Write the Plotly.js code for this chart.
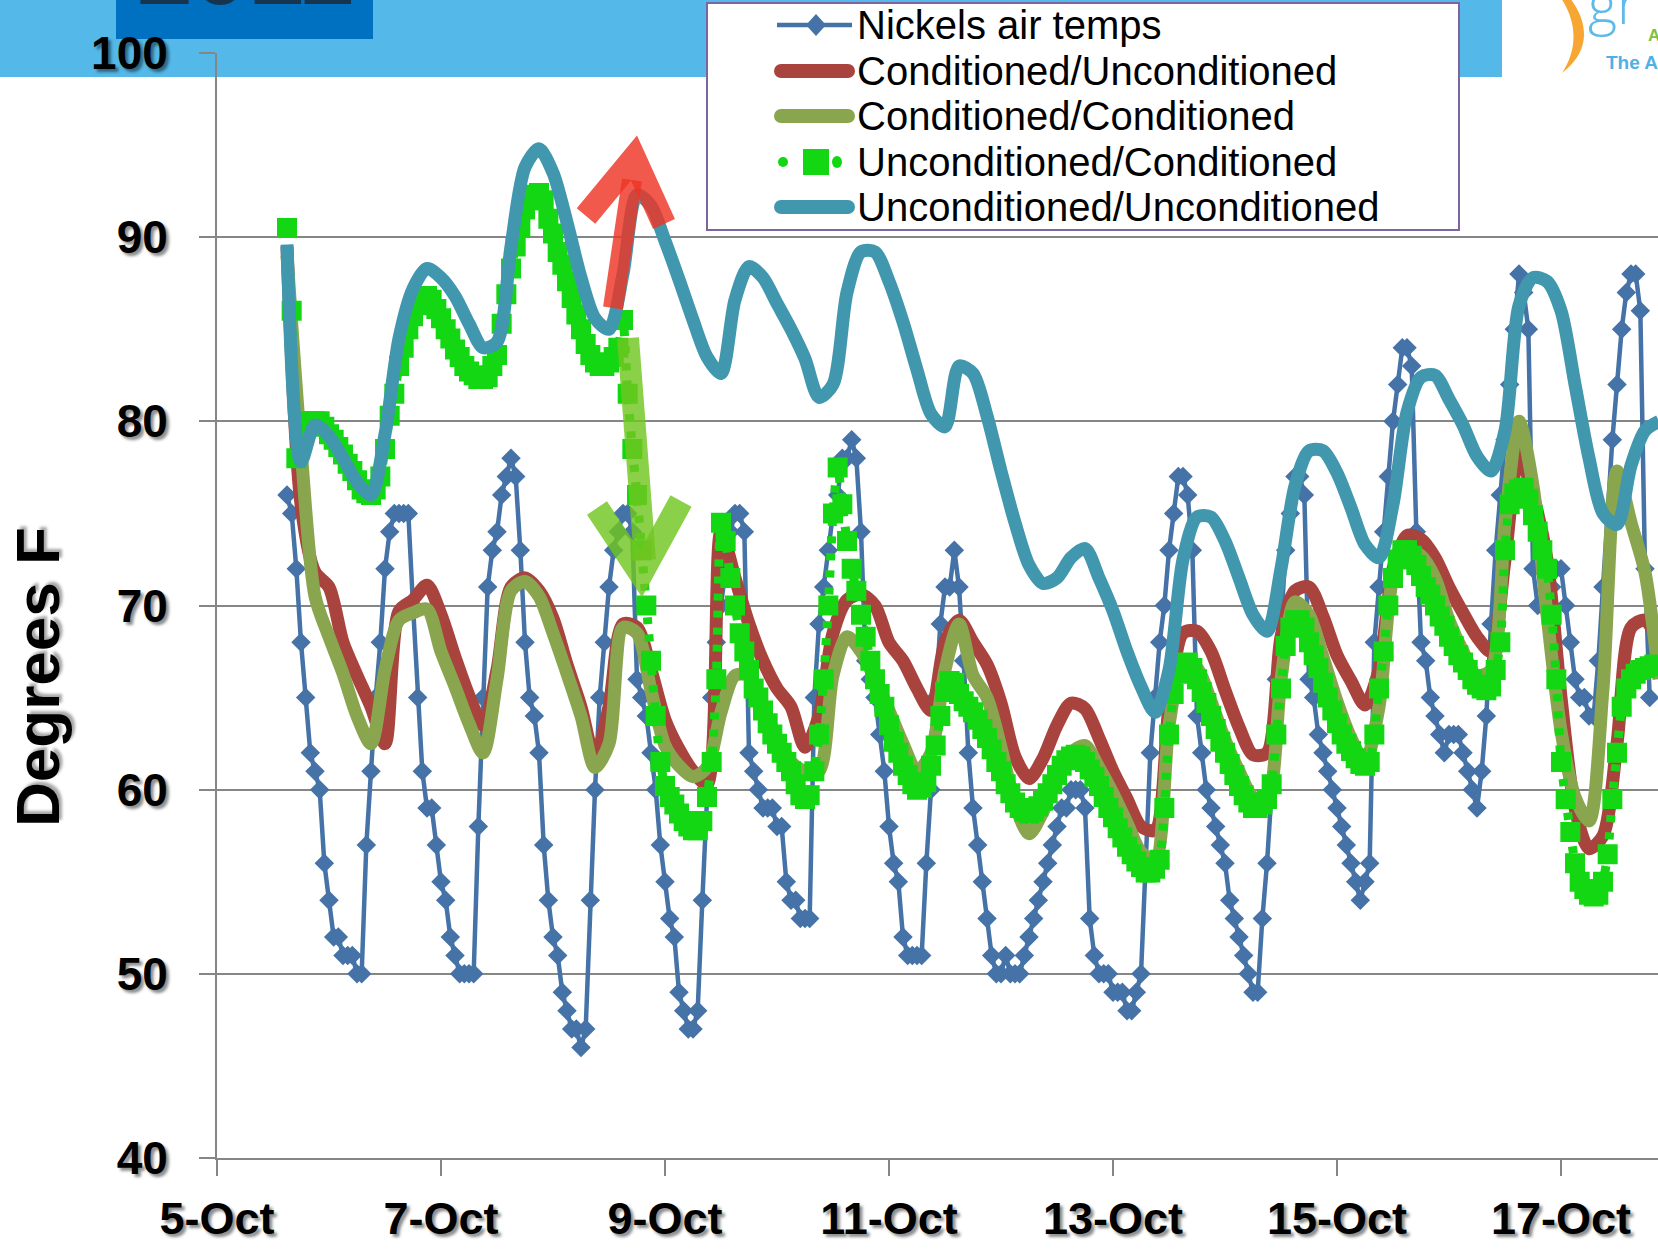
<!DOCTYPE html>
<html><head><meta charset="utf-8">
<script src="https://cdn.plot.ly/plotly-3.0.1.min.js"></script>
<style>html,body{margin:0;padding:0;background:#fff;overflow:hidden}#chart{width:1658px;height:1249px}</style>
</head><body><div id="chart"></div>
<script>
// ---- data (hourly series start 5-Oct 15:00; smooth series every 3 hours from the same start) ----
const seriesNames = ['Nickels air temps','Conditioned/Unconditioned','Conditioned/Conditioned','Unconditioned/Conditioned','Unconditioned/Unconditioned'];
const xTickDates = ['2011-10-05','2011-10-07','2011-10-09','2011-10-11','2011-10-13','2011-10-15','2011-10-17'];
const yAxisTitle = 'Degrees F';

const nickelsAir = [
 76,75,72,68,65,62,61,60,56,
 54,52,52,51,51,51,50,50,57,61,65,68,72,74,75,75,75,75,70,65,61,59,59,57,
 55,54,52,51,50,50,50,50,58,65,71,73,74,76,77,78,77,73,68,65,64,62,57,54,
 52,51,49,48,47,47,46,47,54,60,65,68,71,73,74,75,75,74,66,65,64,62,60,57,
 55,53,52,49,48,47,47,48,54,60,65,68,70,72,74,75,75,74,62,61,60,59,59,59,
 58,58,55,54,54,53,53,53,65,69,71,73,75,76,78,78,79,78,74,67,66,65,63,61,
 58,56,55,52,51,51,51,51,56,60,65,69,71,71,73,71,67,62,59,57,55,53,51,50,
 50,51,50,50,50,51,52,53,54,55,56,57,58,59,59,60,60,60,59,53,51,50,50,50,
 49,49,49,48,48,49,50,56,62,65,68,70,73,75,77,77,76,73,64,62,60,59,58,57,
 56,54,53,52,51,50,49,49,53,56,60,66,69,73,75,77,77,76,66,65,63,62,61,60,
 59,58,57,56,55,54,55,56,68,71,74,77,80,82,84,84,83,74,68,67,65,64,63,62,
 63,63,63,62,61,60,59,61,64,69,73,76,79,82,85,88,87,85,72,70,70,71,71,72,
 72,70,68,66,65,65,64,64,67,71,75,79,82,85,87,88,88,86,72,65
];

const uncondCond = [
 90.5,86,78,79.5,80,80,80,80,79.7,
 79.3,79,78.6,78.2,77.7,77.3,76.8,76.3,76.1,76,76.3,77,78.5,80.3,81.5,83,84,85,85.7,86.3,86.6,86.8,86.6,86.1,
 85.6,85,84.5,83.9,83.5,83,82.7,82.5,82.3,82.3,82.4,83,83.6,85.3,86.9,88.3,89.5,90.5,91.5,92,92.3,92.4,92,91,
 90.2,89.2,88.5,87.6,86.7,85.8,85,84.2,83.6,83.2,83,83,83.2,83.5,84,85.5,81.5,78.5,76,73,70,67,64,61.5,
 60.2,59.6,59.2,58.7,58.3,58,57.8,57.8,58.3,59.6,61.5,66,74.5,73.5,71.5,70,68.5,67.5,66.5,65.5,65,64.3,63.6,63,
 62.5,62,61.5,61,60.3,59.7,59.5,59.7,61,63,66,70,75,77.5,75.5,73.5,72,70.8,69.5,68.3,67,66,65.2,64.5,
 63.5,62.6,62,61.3,60.8,60.3,60,60.1,60.4,61.3,62.4,64,65.3,65.9,65.8,65.2,64.8,64.5,64.2,63.8,63.3,62.8,62.2,61.5,
 61,60.3,59.8,59.3,59,58.8,58.7,58.8,59.1,59.4,59.8,60.3,60.8,61.3,61.6,61.8,61.9,61.8,61.5,61.1,60.7,60.2,59.6,59,
 58.5,57.9,57.4,56.9,56.5,56.1,55.8,55.5,55.5,55.7,56.2,59,63,65.2,66.3,66.8,66.9,66.6,66,65.3,64.7,64,63.3,62.6,
 62,61.4,60.8,60.2,59.7,59.3,59,59,59.2,59.5,60.3,63,65.5,67.8,68.8,69.2,69.2,68.8,68,67.3,66.6,65.8,65,64.3,
 63.6,63,62.5,62.1,61.7,61.4,61.3,61.5,63,65.5,67.5,70,71.5,72.5,73,73,72.7,72.2,71.6,71,70.6,70,69.4,68.9,
 68.3,67.8,67.3,66.9,66.5,66,65.7,65.5,65.4,65.6,66.5,68,73,75.5,76.1,76.3,76.4,75.8,74.9,74,73,72,69.5,66,
 61.5,59.5,57.7,56,55,54.6,54.3,54.2,54.3,55,56.5,59.5,62,64.5,65.5,66,66.3,66.5,66.6,66.7,66.8
];

const condUncond = [
 89.5,75.5,71.8,71,68,66.2,64.5,62.5,69.7,70.3,71.1,69.5,67.2,65.1,63.5,66.5,71,71.5,70.8,69.3,
 66.8,64.5,61.7,64.5,69,68.8,66.5,63.8,62.2,61,60.3,74,71.5,69,67,65.5,64.5,62.3,64,68.5,
 70.3,70.6,70,68,67,65.5,64.3,68,69.2,68,66.8,64.7,61.8,60.6,61.7,63.5,64.7,64.4,62.8,61,
 59.5,58,57.8,64.5,68.5,68.6,67.5,65.4,63.4,61.9,62,68.3,70.8,71,69.4,67.3,65.9,64.6,66.5,72,
 73.8,73.6,72.6,71,69.6,68.3,67.5,72.5,78.2,76,72.5,65,59,56.8,57.5,62.5,68.8,69.2,68
];

const condCond = [
 89,78.5,70.5,68.3,66.3,64,62.5,66.5,69.2,69.6,69.8,67.5,65.6,63.6,62,66,70.8,71.3,70.5,68.5,
 66.3,64,61.2,62.5,68.8,68.5,65.4,62.4,61.3,60.7,61.2,64.2,66.2,66.2,64.5,62.8,61.5,61,61,66.2,
 68.3,67.5,66,64.3,62.5,61,62,66.5,69,66.2,65,62.3,59.2,57.6,58.8,60.8,62,62.4,61.2,59.8,
 58.2,56.6,56.2,63.5,66.8,66.6,64.8,62.7,61,59.6,59.5,66,70.2,69.5,67.2,64.8,62.8,61.5,64.5,71.5,
 73,72.7,71.5,69.2,67.5,66.2,66.5,74.5,80,76.5,69.5,63.2,59.6,58.3,65.5,77.3,74.5,71.8,66
];

const uncondUncond = [
 89.6,77.8,79.8,79.2,78,76.7,76,79.3,84.5,87.2,88.3,87.8,86.8,85.3,84,84.3,89.5,93.8,94.8,93.5,
 90.8,87.8,85.6,85,88,92.3,91.7,89.8,87.7,85.5,83.5,82.6,86.6,88.4,87.8,86.4,85,83.4,81.3,82,
 87,89.2,89.2,87.6,85.4,82.8,80.4,79.7,83,82.6,80.3,77.3,74.5,72.2,71.2,71.5,72.6,73.1,71.5,69.7,
 67.5,65.6,64.2,66.5,72.5,74.8,74.8,73.5,71.5,69.5,68.6,72,76.5,78.4,78.4,77.2,75.3,73.3,72.6,75.5,
 80.5,82.4,82.5,81.2,79.8,78.1,77.3,79.5,86.3,87.8,87.6,86,82,78,75,74.4,77.6,79.5,80
];

// ---- time stamps ----
function stamp(hoursFromStart){
  const total = 15 + hoursFromStart;
  const day = 5 + Math.floor(total / 24);
  const hh = total % 24;
  return '2011-10-' + String(day).padStart(2,'0') + ' ' + String(hh).padStart(2,'0') + ':00';
}
const xNickels = nickelsAir.map((_, i) => stamp(i));
const xUC = uncondCond.map((_, i) => stamp(i));
const x3h = condUncond.map((_, i) => stamp(3 * i));

// ---- geometry helpers (pixel -> paper) ----
const L = 217, R = 1658, T = 53, B = 1158;
const px = x => (x - L) / (R - L);
const py = y => (B - y) / (B - T);

const COL = {nick:'#4572A7', red:'#A8433E', olive:'#89A54E', green:'#14D714', teal:'#4197AE'};

const traces = [
  {x:xNickels, y:nickelsAir, name:seriesNames[0], type:'scatter', mode:'lines+markers',
   line:{color:COL.nick, width:4.5}, marker:{symbol:'diamond', size:15, color:COL.nick}},
  {x:x3h, y:condUncond, name:seriesNames[1], type:'scatter', mode:'lines',
   line:{color:COL.red, width:13, shape:'spline', smoothing:0.8}},
  {x:x3h, y:condCond, name:seriesNames[2], type:'scatter', mode:'lines',
   line:{color:COL.olive, width:13, shape:'spline', smoothing:0.8}},
  {x:xUC, y:uncondCond, name:seriesNames[3], type:'scatter', mode:'lines+markers',
   line:{color:COL.green, width:9, dash:'7px,10px', shape:'spline', smoothing:0.6},
   marker:{symbol:'square', size:18, color:COL.green, line:{color:COL.green, width:2}}},
  {x:x3h, y:uncondUncond, name:seriesNames[4], type:'scatter', mode:'lines',
   line:{color:COL.teal, width:13, shape:'spline', smoothing:0.8}}
];

const shapes = [];
const annotations = [];

// banner
shapes.push({type:'rect', xref:'paper', yref:'paper', x0:px(-5), x1:px(1502), y0:py(77), y1:py(-5), fillcolor:'#54B8E8', line:{width:0}, layer:'below'});
shapes.push({type:'rect', xref:'paper', yref:'paper', x0:px(116), x1:px(373), y0:py(39), y1:py(-5), fillcolor:'#0070C0', line:{width:0}, layer:'below'});
annotations.push({xref:'paper', yref:'paper', x:px(245), y:py(27), xanchor:'center', yanchor:'bottom', showarrow:false,
  text:'2011', font:{family:'Liberation Sans', size:100, color:'#16344f', weight:'bold'}});

// logo (partially cut off at the top right)
shapes.push({type:'path', xref:'paper', yref:'paper', layer:'above', fillcolor:'#F8A633', line:{width:0},
  path:`M${px(1570)},${py(-2)} C${px(1588)},${py(22)} ${px(1592)},${py(50)} ${px(1562)},${py(73)} C${px(1577)},${py(50)} ${px(1578)},${py(24)} ${px(1561)},${py(-2)} Z`});
annotations.push({xref:'paper', yref:'paper', x:px(1586), y:py(42), xanchor:'left', yanchor:'bottom', showarrow:false,
  text:'gr', font:{family:'Open Sans', size:56, color:'#5DBAE9', weight:300}});
annotations.push({xref:'paper', yref:'paper', x:px(1646), y:py(35), xanchor:'left', yanchor:'middle', showarrow:false,
  text:'Al', font:{family:'Liberation Sans', size:17, color:'#7DC242', weight:'bold'}});
annotations.push({xref:'paper', yref:'paper', x:px(1604), y:py(63), xanchor:'left', yanchor:'middle', showarrow:false,
  text:'The Al', font:{family:'Liberation Sans', size:19, color:'#4FB1E3', weight:'bold'}});

// legend box
shapes.push({type:'rect', xref:'paper', yref:'paper', x0:px(707), x1:px(1459), y0:py(230), y1:py(3), fillcolor:'#FFFFFF', line:{color:'#7F64A2', width:2}, layer:'above'});
const rowsY = [25, 71, 116, 162, 207];
const lx0 = 777, lx1 = 852;
shapes.push({type:'line', xref:'paper', yref:'paper', x0:px(lx0), x1:px(lx1), y0:py(rowsY[0]), y1:py(rowsY[0]), line:{color:COL.nick, width:4.5}, layer:'above'});
shapes.push({type:'path', xref:'paper', yref:'paper', layer:'above', fillcolor:COL.nick, line:{width:0},
  path:`M${px(816)},${py(rowsY[0]-11)} L${px(826)},${py(rowsY[0])} L${px(816)},${py(rowsY[0]+11)} L${px(806)},${py(rowsY[0])} Z`});
[[1,COL.red],[2,COL.olive],[4,COL.teal]].forEach(([i,c]) => {
  shapes.push({type:'line', xref:'paper', yref:'paper', x0:px(lx0+4), x1:px(lx1-4), y0:py(rowsY[i]), y1:py(rowsY[i]), line:{color:c, width:14}, layer:'above'});
  shapes.push({type:'circle', xref:'paper', yref:'paper', x0:px(lx0-3), x1:px(lx0+11), y0:py(rowsY[i]+7), y1:py(rowsY[i]-7), fillcolor:c, line:{width:0}, layer:'above'});
  shapes.push({type:'circle', xref:'paper', yref:'paper', x0:px(lx1-11), x1:px(lx1+3), y0:py(rowsY[i]+7), y1:py(rowsY[i]-7), fillcolor:c, line:{width:0}, layer:'above'});
});
shapes.push({type:'circle', xref:'paper', yref:'paper', x0:px(778), x1:px(788), y0:py(rowsY[3]+5), y1:py(rowsY[3]-5), fillcolor:COL.green, line:{width:0}, layer:'above'});
shapes.push({type:'rect', xref:'paper', yref:'paper', x0:px(804), x1:px(828), y0:py(rowsY[3]+12), y1:py(rowsY[3]-12), fillcolor:COL.green, line:{color:COL.green, width:2}, layer:'above'});
shapes.push({type:'circle', xref:'paper', yref:'paper', x0:px(832), x1:px(842), y0:py(rowsY[3]+6), y1:py(rowsY[3]-6), fillcolor:COL.green, line:{width:0}, layer:'above'});
seriesNames.forEach((n, i) => {
  annotations.push({xref:'paper', yref:'paper', x:px(855), y:py(rowsY[i]), xanchor:'left', yanchor:'middle', showarrow:false,
    text:n, font:{family:'Liberation Sans', size:40, color:'#000'}});
});

// y axis title (placed like the original, below the axis centre)
annotations.push({xref:'paper', yref:'paper', x:px(37), y:py(677), xanchor:'center', yanchor:'middle', showarrow:false,
  textangle:-90, text:yAxisTitle,
  font:{family:'Liberation Sans', size:62, color:'#000', weight:'bold', shadow:'3px 3px 3px rgba(0,0,0,0.35)'}});

// arrows (red up, green down)
const RED = 'rgba(238,52,36,0.82)', GRN = 'rgba(112,198,32,0.82)';
shapes.push({type:'path', xref:'paper', yref:'paper', layer:'above', line:{color:RED, width:20},
  path:`M${px(613)},${py(308)} L${px(632)},${py(180)}`});
shapes.push({type:'path', xref:'paper', yref:'paper', layer:'above', line:{color:RED, width:24},
  path:`M${px(586)},${py(216)} L${px(634)},${py(158)} L${px(664)},${py(224)}`});
shapes.push({type:'path', xref:'paper', yref:'paper', layer:'above', line:{color:GRN, width:22},
  path:`M${px(628)},${py(338)} L${px(645)},${py(560)}`});
shapes.push({type:'path', xref:'paper', yref:'paper', layer:'above', line:{color:GRN, width:24},
  path:`M${px(597)},${py(508)} L${px(641)},${py(574)} L${px(681)},${py(501)}`});

const tickFont = {family:'Liberation Sans', size:46, color:'#000', weight:'bold', shadow:'3px 3px 3px rgba(0,0,0,0.45)'};
const xTickFont = Object.assign({}, tickFont, {size:45});

const layout = {
  width:1658, height:1249,
  margin:{l:L, r:1658-R, t:T, b:1249-B, pad:0},
  paper_bgcolor:'#FFFFFF', plot_bgcolor:'rgba(0,0,0,0)',
  showlegend:false,
  xaxis:{type:'date', range:['2011-10-05 00:00','2011-10-17 20:47'],
    tickmode:'array', tickvals:xTickDates, tickformat:'%-d-%b',
    showgrid:false, zeroline:false, showline:true, linecolor:'#868686', linewidth:2,
    ticks:'outside', ticklen:16, tickwidth:2, tickcolor:'#868686',
    tickfont:xTickFont, ticklabelstandoff:4},
  yaxis:{range:[40,100], tick0:40, dtick:10, showgrid:true, gridcolor:'#868686', gridwidth:2,
    zeroline:false, showline:true, linecolor:'#868686', linewidth:2,
    ticks:'outside', ticklen:16, tickwidth:2, tickcolor:'#868686',
    tickfont:tickFont, ticklabelstandoff:22},
  shapes:shapes,
  annotations:annotations
};

Plotly.newPlot('chart', traces, layout, {staticPlot:true, displayModeBar:false});
</script>
</body></html>
